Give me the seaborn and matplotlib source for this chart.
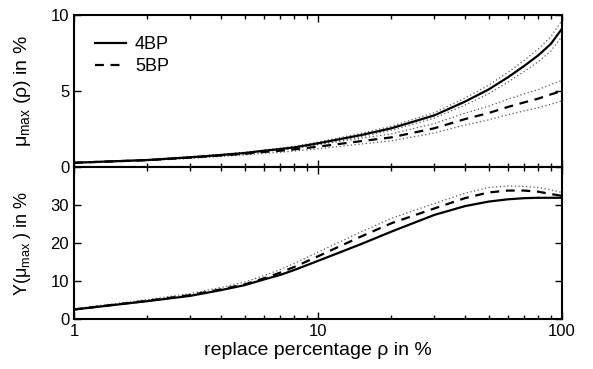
import numpy as np
import pandas as pd
import matplotlib
matplotlib.use('Agg')
import matplotlib.pyplot as plt
import seaborn as sns

# values
rho = [1, 2, 3, 4, 5, 6, 7, 8, 10, 15, 20, 30, 40, 50, 60, 70, 80, 90, 100]
mu_4bp = [0.28, 0.46, 0.64, 0.79, 0.92, 1.07, 1.18, 1.29, 1.56, 2.10, 2.55, 3.40, 4.30,
          5.10, 5.90, 6.65, 7.35, 8.10, 9.10]
mu_4bp_hi = [0.29, 0.48, 0.67, 0.83, 0.97, 1.12, 1.24, 1.36, 1.64, 2.21, 2.68, 3.58, 4.53,
             5.38, 6.22, 7.02, 7.77, 8.57, 9.65]
mu_4bp_lo = [0.27, 0.44, 0.61, 0.75, 0.87, 1.02, 1.12, 1.22, 1.48, 1.99, 2.42, 3.22, 4.07,
             4.82, 5.58, 6.28, 6.93, 7.63, 8.60]
mu_5bp = [0.28, 0.45, 0.62, 0.76, 0.87, 0.99, 1.07, 1.16, 1.34, 1.70, 1.95, 2.55, 3.15,
          3.55, 3.95, 4.25, 4.50, 4.78, 5.00]
mu_5bp_hi = [0.30, 0.48, 0.67, 0.82, 0.95, 1.08, 1.17, 1.27, 1.48, 1.89, 2.18, 2.86, 3.54,
             4.00, 4.46, 4.81, 5.10, 5.43, 5.70]
mu_5bp_lo = [0.26, 0.42, 0.57, 0.70, 0.79, 0.90, 0.97, 1.05, 1.20, 1.51, 1.72, 2.24, 2.76,
             3.10, 3.44, 3.69, 3.90, 4.13, 4.35]

y_4bp = [2.5, 4.7, 6.1, 7.6, 8.9, 10.4, 11.6, 12.9, 15.3, 19.7, 23.0, 27.4, 29.7,
         30.9, 31.5, 31.8, 31.9, 31.9, 31.9]
y_5bp = [2.5, 4.8, 6.3, 7.8, 9.1, 10.7, 12.2, 13.7, 16.5, 21.7, 25.2, 29.1, 31.8,
         33.3, 33.8, 33.8, 33.5, 32.9, 32.4]
y_5bp_hi = [2.7, 5.1, 6.7, 8.3, 9.7, 11.4, 13.0, 14.6, 17.6, 22.9, 26.5, 30.4, 33.1,
            34.6, 35.0, 34.9, 34.6, 34.0, 33.3]

plt.rcParams['font.family'] = ['Liberation Sans', 'DejaVu Sans']
plt.rcParams['mathtext.fontset'] = 'custom'
plt.rcParams['mathtext.rm'] = 'Liberation Sans'
plt.rcParams['mathtext.it'] = 'Liberation Sans'


def style_axes(ax):
    ax.set_xscale('log')
    ax.set_xlim(1, 100)
    ax.tick_params(which='both', direction='in', top=True, right=True, labelsize=12)
    ax.tick_params(which='major', length=5, width=1)
    ax.tick_params(which='minor', length=3, width=1)
    [s.set_linewidth(1.5) for s in ax.spines.values()]
    ax.set_xlabel('')
    ax.set_ylabel('')


def main():
    df_top = pd.DataFrame({'rho': rho, '4BP': mu_4bp, '4BP_hi': mu_4bp_hi, '4BP_lo': mu_4bp_lo,
                           '5BP': mu_5bp, '5BP_hi': mu_5bp_hi, '5BP_lo': mu_5bp_lo})
    df_bot = pd.DataFrame({'rho': rho, '4BP': y_4bp, '5BP': y_5bp, '5BP_hi': y_5bp_hi})

    fig = plt.figure(figsize=(5.93, 3.69), dpi=100)
    ax1 = fig.add_axes([0.1248, 0.5474, 0.8229, 0.4119])
    ax2 = fig.add_axes([0.1248, 0.1355, 0.8229, 0.4119])

    dot = dict(color='0.35', linestyle=(0, (1, 2)), linewidth=0.9)
    for c in ['4BP_hi', '4BP_lo', '5BP_hi', '5BP_lo']:
        sns.lineplot(data=df_top, x='rho', y=c, ax=ax1, **dot)
    sns.lineplot(data=df_top, x='rho', y='4BP', ax=ax1, color='black', linewidth=1.6, label='4BP')
    sns.lineplot(data=df_top, x='rho', y='5BP', ax=ax1, color='black', linewidth=1.6,
                 linestyle=(0, (4, 3)), label='5BP')

    sns.lineplot(data=df_bot, x='rho', y='5BP_hi', ax=ax2, **dot)
    sns.lineplot(data=df_bot, x='rho', y='4BP', ax=ax2, color='black', linewidth=1.6)
    sns.lineplot(data=df_bot, x='rho', y='5BP', ax=ax2, color='black', linewidth=1.6,
                 linestyle=(0, (4, 3)))

    style_axes(ax1)
    style_axes(ax2)
    ax1.set_ylim(0, 10)
    ax1.set_yticks([0, 5, 10])
    ax1.tick_params(labelbottom=False)
    ax2.set_ylim(0, 40)
    ax2.set_yticks([0, 10, 20, 30, 40])
    ax2.set_yticklabels(['0', '10', '20', '30', ''])
    ax2.set_xticks([1, 10, 100])
    ax2.set_xticklabels(['1', '10', '100'])

    ax1.legend(loc='upper left', frameon=False, fontsize=13, handlelength=1.7,
               handletextpad=0.5, bbox_to_anchor=(0.01, 0.97), labelspacing=0.3)

    ax1.set_ylabel(r'$\mathrm{μ_{max}}$ (ρ) in %', fontsize=14)
    ax2.set_ylabel(r'Y($\mathrm{μ_{max}}$ ) in %', fontsize=13)
    ax1.yaxis.set_label_coords(-0.085, 0.5)
    ax2.yaxis.set_label_coords(-0.085, 0.5)
    ax2.set_xlabel('replace percentage ρ in %', fontsize=14, labelpad=2)

    plt.savefig('out.png', dpi=100)


if __name__ == '__main__':
    main()
